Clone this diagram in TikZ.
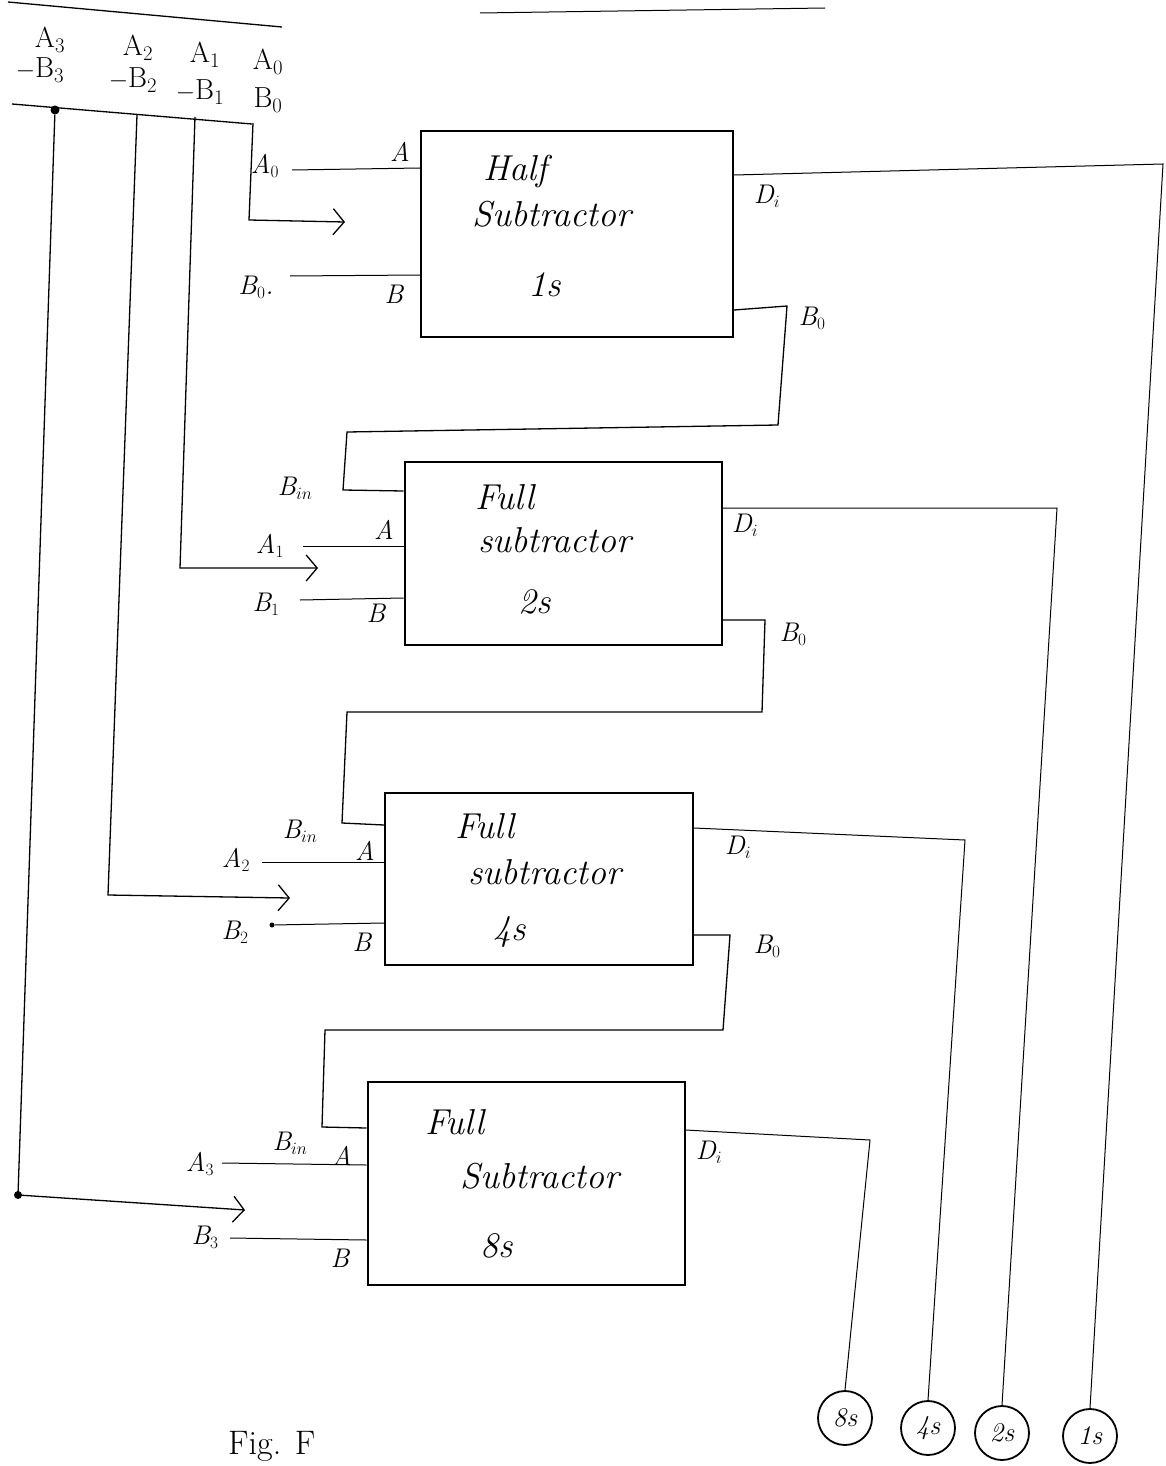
\documentclass[tikz,border=0pt]{standalone}
\usetikzlibrary{arrows.meta}
\begin{document}
\begin{tikzpicture}[x=1pt,y=-1pt,
  wire/.style={line width=1.3pt},
  thin wire/.style={line width=1pt},
  box/.style={draw,line width=2pt,inner sep=0pt},
  lab/.style={font=\fontsize{27}{30}\selectfont\itshape,inner sep=1pt},
  hlab/.style={font=\fontsize{29}{32}\selectfont,inner sep=1pt},
  btxt/.style={font=\fontsize{36}{40}\selectfont\itshape,inner sep=1pt},
  outc/.style={draw,circle,line width=1.8pt,minimum size=54pt,inner sep=0pt,font=\fontsize{27}{30}\selectfont\itshape},
  barb/.style={-{Straight Barb[length=11pt,width=26pt,line width=1.3pt]}},
  dotc/.style={fill,circle,inner sep=0pt,minimum size=9pt}]
\clip (0,0) rectangle (1166,1466);
\fill[white] (0,0) rectangle (1166,1466);

% header
\coordinate (t1) at (8,2); \coordinate (t2) at (282,27);
\draw[wire] (t1) -- (t2);
\coordinate (t3) at (480,13); \coordinate (t4) at (825,8);
\draw[thin wire] (t3) -- (t4);
\node[hlab] (h3a) at (50,40) {A$_3$};
\node[hlab] (h3b) at (40,70) {$-$B$_3$};
\node[hlab] (h2a) at (138,48) {A$_2$};
\node[hlab] (h2b) at (133,80) {$-$B$_2$};
\node[hlab] (h1a) at (205,55) {A$_1$};
\node[hlab] (h1b) at (200,92) {$-$B$_1$};
\node[hlab] (h0a) at (268,62) {A$_0$};
\node[hlab] (h0b) at (268,100) {B$_0$};
\coordinate (bus1) at (12,104); \coordinate (bus2) at (252,124);
\draw[wire] (bus1) -- (bus2);
\node[dotc] (d3) at (55,110) {};

% boxes
\node[box,minimum width=312pt,minimum height=205pt] (hs) at (577,234) {};
\node[box,minimum width=317pt,minimum height=183pt] (fs2) at (563,553) {};
\node[box,minimum width=308pt,minimum height=172pt] (fs4) at (539,879) {};
\node[box,minimum width=317pt,minimum height=203pt] (fs8) at (526,1183) {};

\node[btxt] (hs1) at (515,172) {Half};
\node[btxt] (hs2) at (552,214) {Subtractor};
\node[btxt] (hs3) at (545,285) {1s};
\node[btxt] (f21) at (505,497) {Full};
\node[btxt] (f22) at (555,540) {subtractor};
\node[btxt] (f23) at (535,602) {2s};
\node[btxt] (f41) at (485,826) {Full};
\node[btxt] (f42) at (545,872) {subtractor};
\node[btxt] (f43) at (510,932) {4s};
\node[btxt] (f81) at (455,1122) {Full};
\node[btxt] (f82) at (540,1176) {Subtractor};
\node[btxt] (f83) at (497,1246) {8s};

% vertical bus taps with arrows
\coordinate (v3b) at (18,1195); \coordinate (v3c) at (245,1210);
\draw[wire,barb] (d3) -- (v3b) -- (v3c);
\node[dotc,minimum size=8pt] (d3b) at (v3b) {};
\coordinate (v2a) at (137,115); \coordinate (v2b) at (108,895); \coordinate (v2c) at (290,898);
\draw[wire,barb] (v2a) -- (v2b) -- (v2c);
\coordinate (v1a) at (195,117); \coordinate (v1b) at (180,568); \coordinate (v1c) at (318,568);
\draw[wire,barb] (v1a) -- (v1b) -- (v1c);
\coordinate (v0a) at (253,123); \coordinate (v0b) at (249,220); \coordinate (v0c) at (345,222);
\draw[wire,barb] (v0a) -- (v0b) -- (v0c);

% half subtractor inputs
\node[lab] (la0) at (265,166) {A$_0$};
\node[lab] (lb0) at (256,287) {B$_0$.};
\node[lab] (pa0) at (400,152) {A};
\node[lab] (pb0) at (394,294) {B};
\coordinate (ia0) at (292,170);
\draw[thin wire] (ia0) -- (hs.west |- 0,168);
\coordinate (ib0) at (290,276);
\draw[thin wire] (ib0) -- (hs.west |- 0,275);

% half subtractor outputs
\node[lab] (dh) at (767,196) {D$_i$};
\node[lab] (bh) at (812,318) {B$_0$};
\node[outc] (c1) at (1090,1436) {1s};
\coordinate (dh1) at (1163,164);
\draw[thin wire] (hs.east |- 0,175) -- (dh1) -- (c1.north);
\coordinate (bo1a) at (787,306); \coordinate (bo1b) at (778,425);
\coordinate (bo1c) at (347,432); \coordinate (bo1d) at (343,490);
\draw[wire] (hs.east |- 0,310) -- (bo1a) -- (bo1b) -- (bo1c) -- (bo1d) -- (fs2.west |- 0,491);

% fs2
\node[lab] (bin2) at (295,488) {B$_{in}$};
\node[lab] (la1) at (270,546) {A$_1$};
\node[lab] (lb1) at (266,604) {B$_1$};
\node[lab] (pa1) at (384,530) {A};
\node[lab] (pb1) at (376,613) {B};
\coordinate (ia1) at (303,546);
\draw[thin wire] (ia1) -- (fs2.west |- 0,546);
\coordinate (ib1) at (300,600);
\draw[thin wire] (ib1) -- (fs2.west |- 0,598);
\node[lab] (d2) at (745,525) {D$_i$};
\node[lab] (b2) at (793,634) {B$_0$};
\node[outc] (c2) at (1002,1433) {2s};
\coordinate (d2a) at (1057,508);
\draw[thin wire] (fs2.east |- 0,508) -- (d2a) -- (c2.north);
\coordinate (bo2a) at (765,620); \coordinate (bo2b) at (762,712);
\coordinate (bo2c) at (347,712); \coordinate (bo2d) at (342,823);
\draw[wire] (fs2.east |- 0,620) -- (bo2a) -- (bo2b) -- (bo2c) -- (bo2d) -- (fs4.west |- 0,825);

% fs4
\node[lab] (bin4) at (300,831) {B$_{in}$};
\node[lab] (la2) at (236,860) {A$_2$};
\node[lab] (lb2) at (235,932) {B$_2$};
\node[lab] (pa2) at (365,851) {A};
\node[lab] (pb2) at (362,942) {B};
\coordinate (ia2) at (262,862);
\draw[thin wire] (ia2) -- (fs4.west |- 0,862);
\node[dotc,minimum size=5pt] (ib2) at (272,925) {};
\draw[thin wire] (ib2) -- (fs4.west |- 0,923);
\node[lab] (d4) at (738,847) {D$_i$};
\node[lab] (b4) at (767,946) {B$_0$};
\node[outc] (c4) at (928,1428) {4s};
\coordinate (d4a) at (965,840);
\draw[thin wire] (fs4.east |- 0,828) -- (d4a) -- (c4.north);
\coordinate (bo4a) at (730,935); \coordinate (bo4b) at (723,1030);
\coordinate (bo4c) at (325,1030); \coordinate (bo4d) at (322,1127);
\draw[wire] (fs4.east |- 0,935) -- (bo4a) -- (bo4b) -- (bo4c) -- (bo4d) -- (fs8.west |- 0,1128);

% fs8
\node[lab] (bin8) at (290,1143) {B$_{in}$};
\node[lab] (la3) at (200,1164) {A$_3$};
\node[lab] (lb3) at (205,1237) {B$_3$};
\node[lab] (pa3) at (342,1156) {A};
\node[lab] (pb3) at (340,1258) {B};
\coordinate (ia3) at (222,1163);
\draw[thin wire] (ia3) -- (fs8.west |- 0,1165);
\coordinate (ib3) at (230,1238);
\draw[thin wire] (ib3) -- (fs8.west |- 0,1240);
\node[lab] (d8) at (709,1152) {D$_i$};
\node[outc] (c8) at (845,1418) {8s};
\coordinate (d8a) at (870,1140);
\draw[thin wire] (fs8.east |- 0,1130) -- (d8a) -- (c8.north);

% caption
\node[font=\fontsize{34}{38}\selectfont,anchor=south west,inner sep=0pt] (fig) at (228,1462) {Fig. F};
\end{tikzpicture}
\end{document}
